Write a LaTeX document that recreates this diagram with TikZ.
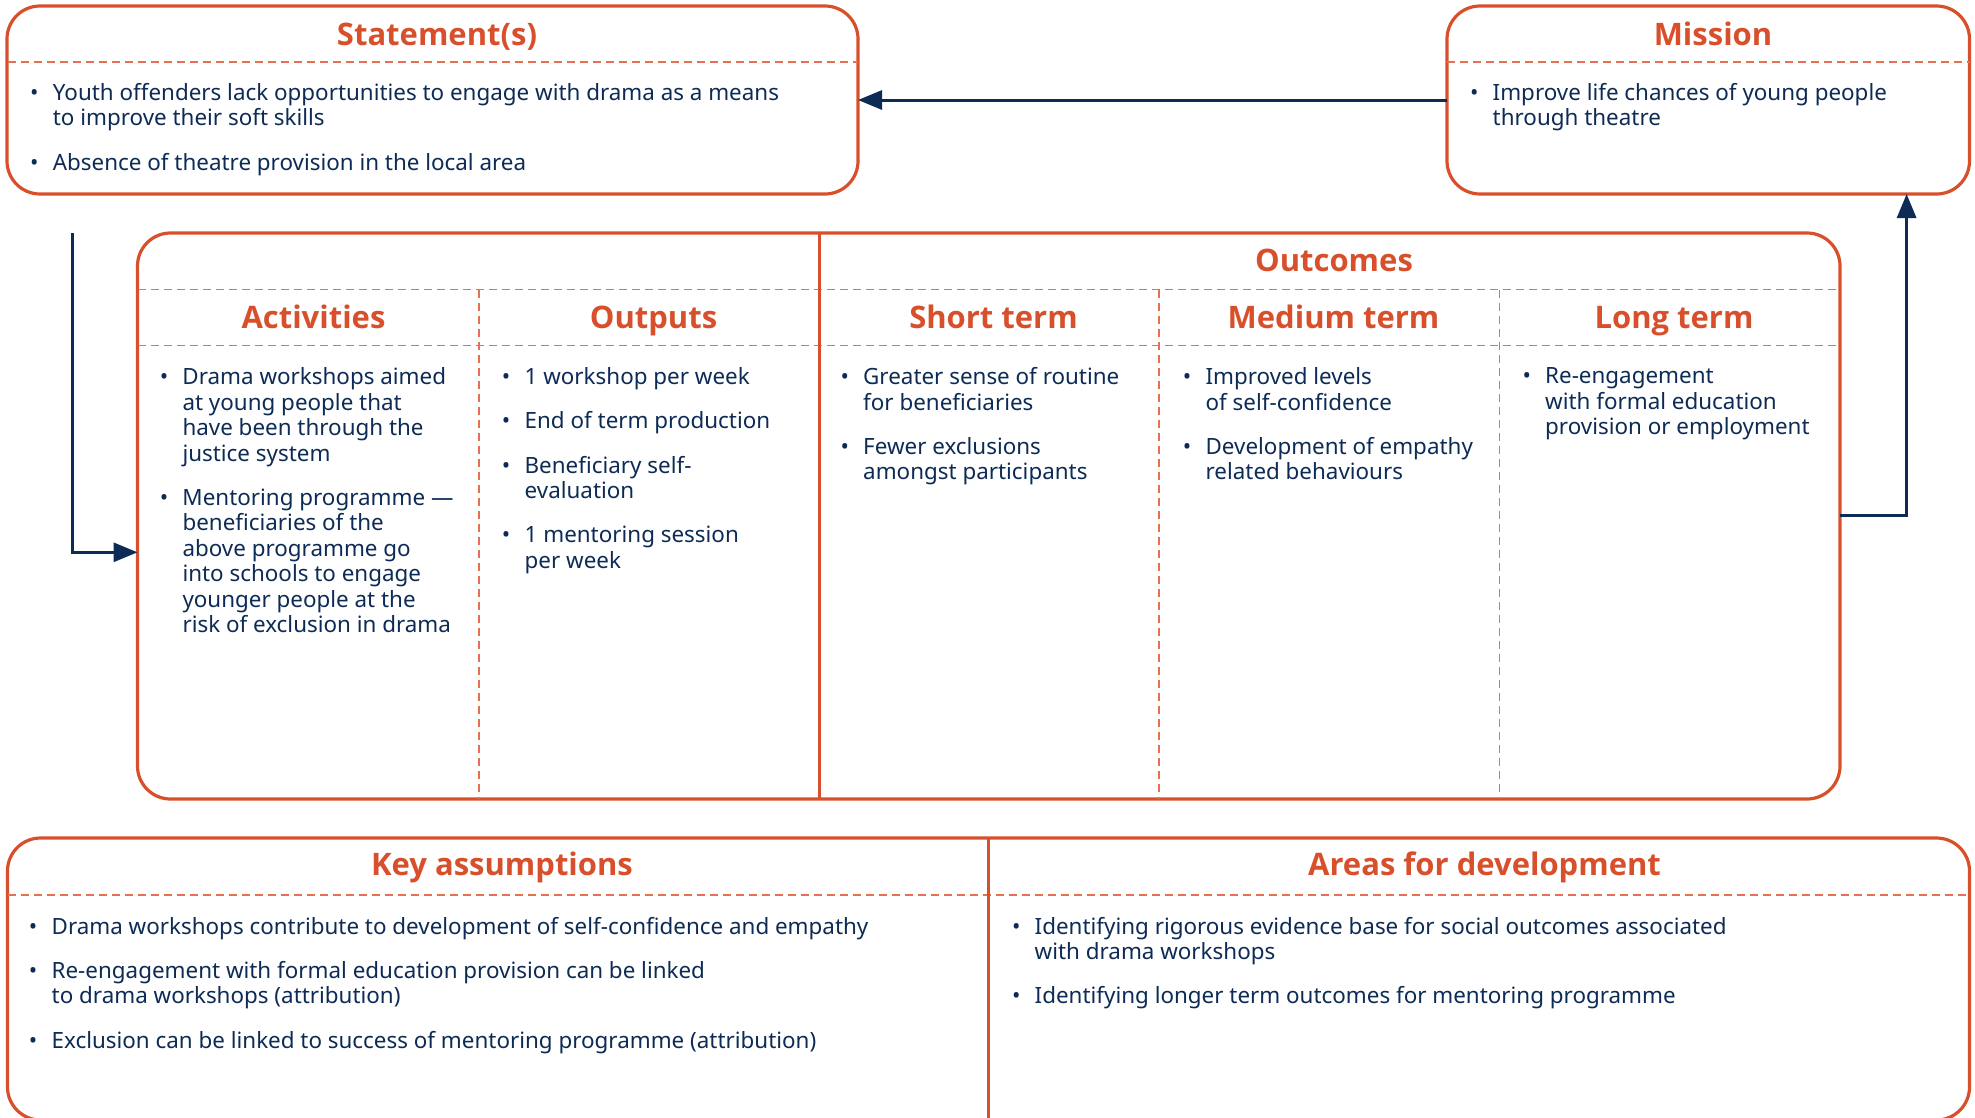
\documentclass[tikz,border=0pt]{standalone}
\usepackage{fontspec}
\setmainfont{Noto Sans}
% heading face: a real bold cut when one is available, otherwise an emboldened regular
\IfFontExistsTF{Noto Sans Bold}
  {\newfontfamily\headfont{Noto Sans Bold}}
  {\IfFontExistsTF{Open Sans Bold}
    {\newfontfamily\headfont{Open Sans Bold}}
    {\newfontfamily\headfont{Noto Sans}[FakeBold=2.6]}}
\usetikzlibrary{arrows.meta}
\definecolor{brand}{HTML}{D8502B}
\definecolor{brandlight}{HTML}{E6704F}
\definecolor{ink}{HTML}{0D2B55}
% bullet hung to the left of the text column, with a strut fixing the first baseline
\newcommand{\bul}{\leavevmode\llap{\makebox[37pt][c]{•}}\rule{0pt}{16pt}}
\newcommand{\igap}{\\[18.8pt]}
\begin{document}
\begin{tikzpicture}[x=1pt,y=-1pt,
  frame/.style={draw=brand, line width=3.2pt, rounded corners=33pt, rectangle,
                inner sep=0pt, outer sep=0pt},
  rule/.style={draw=brandlight, line width=1.6pt, dash pattern=on 8pt off 5pt},
  divider/.style={draw=brand, line width=3pt},
  conn/.style={draw=ink, line width=3pt, -{Triangle[length=24pt,width=19pt]}},
  head/.style={font=\fontsize{31}{36}\headfont, text=brand, anchor=base, inner sep=0pt},
  body/.style={font=\fontsize{22.4}{25.5}\selectfont, text=ink, align=left,
               anchor=north west, inner sep=0pt}]
\useasboundingbox (0,0) rectangle (1975,1117);

% ---------- frames ----------
\node[frame, minimum width=851pt,  minimum height=188pt] (stmt)    at (432.5,100)   {};
\node[frame, minimum width=522.5pt,minimum height=188pt] (mission) at (1708.25,100) {};
\node[frame, minimum width=1702.5pt,minimum height=566pt] (main)  at (988.75,516)  {};
\node[frame, minimum width=1962pt, minimum height=282pt] (bottom)  at (988.5,979)   {};

% ---------- inner rules ----------
\draw[rule] (7.5,62) -- (858,62);
\draw[rule] (1447,62) -- (1969.5,62);
\draw[rule] (137.5,289.5) -- (1840,289.5);
\draw[rule] (137.5,345.5) -- (1840,345.5);
\draw[divider] (819,233) -- (819,799);
\foreach \cx in {479,1159,1499.5}
  \draw[rule] (\cx,289.5) -- (\cx,799);
\draw[rule] (7.5,895) -- (1969.5,895);
\draw[divider] (988.5,838) -- (988.5,1125);

% ---------- headings ----------
\node[head] (stmtT) at (437,45)  {Statement(s)};
\node[head] (missT) at (1713,45) {Mission};
\node[head] (outT)  at (1334,271) {Outcomes};
\node[head] (actT)  at (313.5,328)  {Activities};
\node[head] (outpT) at (653.5,328)  {Outputs};
\node[head] (shT)   at (993.5,328)  {Short term};
\node[head] (medT)  at (1333.5,328) {Medium term};
\node[head] (lngT)  at (1674,328)   {Long term};
\node[head] (kaT)   at (502,875)    {Key assumptions};
\node[head] (adT)   at (1484.5,875) {Areas for development};

% ---------- texts ----------
\node[body] (stmtB) at (52.7,83) {\bul Youth offenders lack opportunities to engage with drama as a means\\
  to improve their soft skills\igap
  \bul Absence of theatre provision in the local area};
\node[body] (missB) at (1492.5,83) {\bul Improve life chances of young people\\ through theatre};

\node[body] (actB) at (182.3,367.3) {\bul Drama workshops aimed\\ at young people that\\
  have been through the\\ justice system\igap
  \bul Mentoring programme —\\ beneficiaries of the\\ above programme go\\
  into schools to engage\\ younger people at the\\ risk of exclusion in drama};
\node[body] (outpB) at (524.5,367.3) {\bul 1 workshop per week\igap
  \bul End of term production\igap
  \bul Beneficiary self-\\ evaluation\igap
  \bul 1 mentoring session\\ per week};
\node[body] (shB) at (863,367.3) {\bul Greater sense of routine\\ for beneficiaries\igap
  \bul Fewer exclusions\\ amongst participants};
\node[body] (medB) at (1205.4,367.3) {\bul Improved levels\\ of self-confidence\igap
  \bul Development of empathy\\ related behaviours};
\node[body] (lngB) at (1545,367.3) {\bul Re-engagement\\ with formal education\\ provision or employment};

\node[body] (kaB) at (51.5,916.7) {\bul Drama workshops contribute to development of self-confidence and empathy\igap
  \bul Re-engagement with formal education provision can be linked\\ to drama workshops (attribution)\igap
  \bul Exclusion can be linked to success of mentoring programme (attribution)};
\node[body] (adB) at (1034.5,916.7) {\bul Identifying rigorous evidence base for social outcomes associated\\
  with drama workshops\igap
  \bul Identifying longer term outcomes for mentoring programme};

% ---------- connectors ----------
\coordinate (feedIn) at (72.3,232.5);
\coordinate (feedBend) at (72.3,552.3);
\draw[conn] (feedIn) -- (feedBend) -- (feedBend -| main.west);
\coordinate (upBend) at (1906.6,515);
\draw[conn] (upBend -| main.east) -- (upBend) -- (upBend |- mission.south);
\draw[conn] (mission.west) -- (stmt.east);
\end{tikzpicture}
\end{document}
